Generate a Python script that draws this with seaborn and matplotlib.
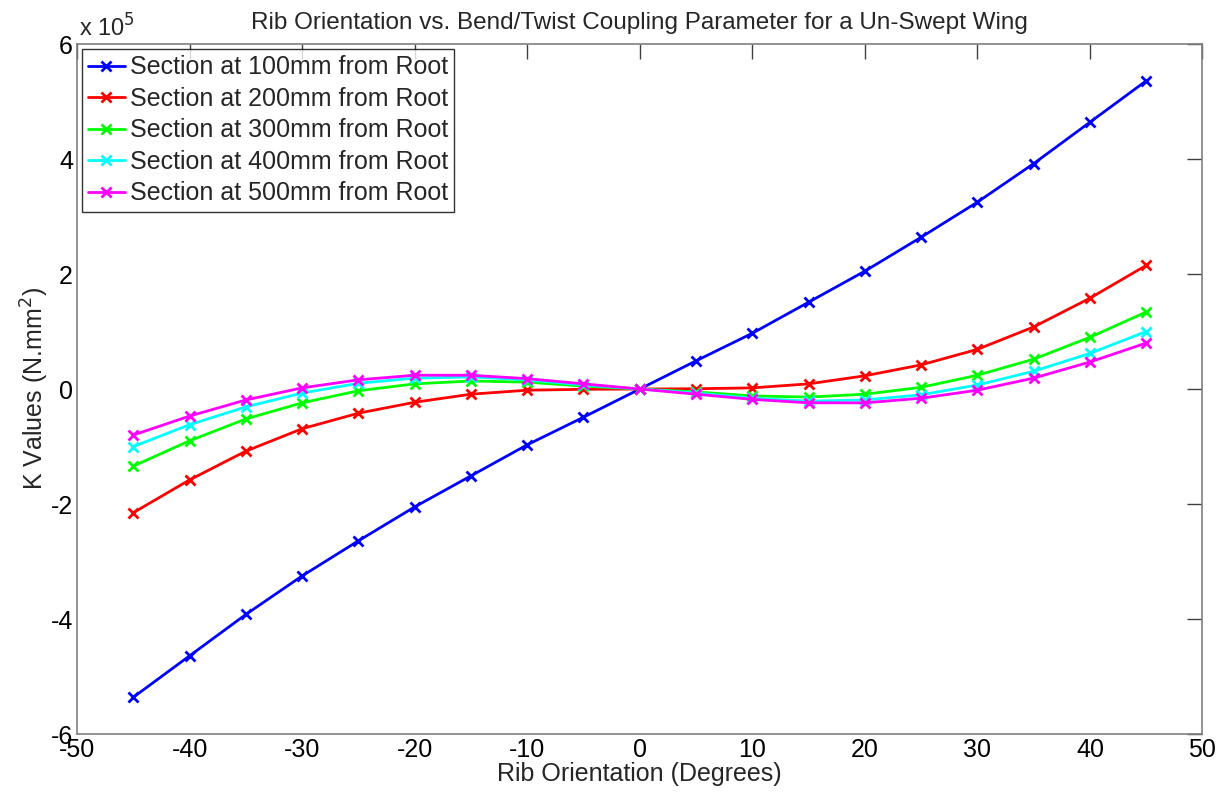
import numpy as np
import pandas as pd
import matplotlib
matplotlib.use("Agg")
import matplotlib.pyplot as plt
import seaborn as sns
from matplotlib.ticker import FuncFormatter, MultipleLocator

sns.set_style("white")
plt.rcParams["font.family"] = ["Liberation Sans", "DejaVu Sans"]
plt.rcParams["axes.unicode_minus"] = False

# Rib orientation angles (degrees)
angles = [-45, -40, -35, -30, -25, -20, -15, -10, -5, 0, 5, 10, 15, 20, 25, 30, 35, 40, 45]

# Coupling parameter K (N.mm^2) for each spanwise section
k_100 = [-5.36e5, -4.64e5, -3.92e5, -3.25e5, -2.64e5, -2.05e5, -1.51e5, -0.97e5, -0.49e5, 0.0,
         0.49e5, 0.97e5, 1.51e5, 2.05e5, 2.64e5, 3.25e5, 3.92e5, 4.64e5, 5.36e5]
k_200 = [-2.15e5, -1.58e5, -1.08e5, -0.69e5, -0.42e5, -0.23e5, -0.09e5, -0.02e5, -0.005e5, 0.0,
         0.005e5, 0.02e5, 0.09e5, 0.23e5, 0.42e5, 0.69e5, 1.08e5, 1.58e5, 2.15e5]
k_300 = [-1.34e5, -0.90e5, -0.52e5, -0.24e5, -0.03e5, 0.09e5, 0.14e5, 0.12e5, 0.05e5, 0.0,
         -0.05e5, -0.12e5, -0.14e5, -0.09e5, 0.03e5, 0.24e5, 0.52e5, 0.90e5, 1.34e5]
k_400 = [-1.00e5, -0.62e5, -0.31e5, -0.07e5, 0.10e5, 0.19e5, 0.21e5, 0.16e5, 0.07e5, 0.0,
         -0.07e5, -0.16e5, -0.21e5, -0.19e5, -0.10e5, 0.07e5, 0.31e5, 0.62e5, 1.00e5]
k_500 = [-0.80e5, -0.47e5, -0.19e5, 0.02e5, 0.16e5, 0.24e5, 0.24e5, 0.18e5, 0.09e5, 0.0,
         -0.09e5, -0.18e5, -0.24e5, -0.24e5, -0.16e5, -0.02e5, 0.19e5, 0.47e5, 0.80e5]

labels = ["Section at 100mm from Root", "Section at 200mm from Root",
          "Section at 300mm from Root", "Section at 400mm from Root",
          "Section at 500mm from Root"]
colors = ["#0000ff", "#ff0000", "#00ff00", "#00ffff", "#ff00ff"]
series = [k_100, k_200, k_300, k_400, k_500]

fig = plt.figure(figsize=(12.27, 7.92), dpi=100)
ax = fig.add_axes([0.0628, 0.0732, 0.9172, 0.8712])

for lab, col, vals in zip(labels, colors, series):
    df = pd.DataFrame({"angle": angles, "K": vals})
    sns.lineplot(data=df, x="angle", y="K", ax=ax, color=col, label=lab,
                 marker="x", markersize=7.5, markeredgewidth=2.0,
                 markeredgecolor=col, linewidth=2.0)

ax.set_xlim(-50, 50)
ax.set_ylim(-6e5, 6e5)
ax.xaxis.set_major_locator(MultipleLocator(10))
ax.yaxis.set_major_locator(MultipleLocator(2e5))
ax.yaxis.set_major_formatter(FuncFormatter(lambda v, p: f"{v / 1e5:g}"))

for s in ax.spines.values():
    s.set_visible(True)
    s.set_color("#808080")
    s.set_linewidth(1.2)

ax.tick_params(axis="both", direction="in", length=11, width=1.0,
               color="#404040", labelsize=18, labelcolor="black",
               top=True, right=True, pad=3)

ax.set_xlabel("Rib Orientation (Degrees)", fontsize=18, labelpad=0)
ax.set_ylabel("K Values (N.mm$^2$)", fontsize=18, labelpad=0)
ax.set_title("Rib Orientation vs. Bend/Twist Coupling Parameter for a Un-Swept Wing",
             fontsize=17.5, pad=11)
ax.text(0.002, 1.004, "x 10$^5$", transform=ax.transAxes, fontsize=17,
        ha="left", va="bottom")

leg = ax.legend(loc="upper left", fontsize=18, frameon=True, fancybox=False,
                borderaxespad=0.2, handlelength=1.45, handletextpad=0.2,
                labelspacing=0.3, borderpad=0.25)
leg.get_frame().set_edgecolor("black")
leg.get_frame().set_linewidth(1.0)

fig.savefig("out.png", dpi=100, facecolor="white")
